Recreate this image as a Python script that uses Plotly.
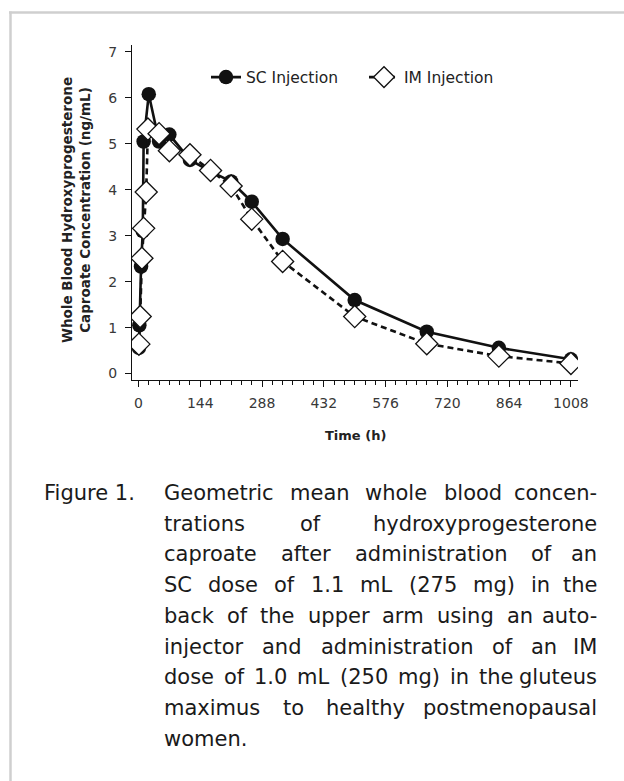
import plotly.graph_objects as go

# ---------------- data ----------------
sc_time = [1, 2, 6, 10, 12, 24, 48, 72, 120, 168, 216, 264, 336, 504, 672, 840, 1008]
sc_conc = [0.56, 1.05, 2.33, 3.10, 5.05, 6.08, 5.05, 5.20, 4.65, 4.40, 4.18, 3.74, 2.93, 1.60, 0.91, 0.56, 0.31]

im_time = [1, 4, 8, 12, 18, 22, 48, 72, 120, 168, 216, 264, 336, 504, 672, 840, 1008]
im_conc = [0.64, 1.24, 2.51, 3.16, 3.95, 5.32, 5.22, 4.85, 4.76, 4.42, 4.08, 3.36, 2.44, 1.24, 0.65, 0.38, 0.22]

x_ticks = [0, 144, 288, 432, 576, 720, 864, 1008]
y_ticks = [0, 1, 2, 3, 4, 5, 6, 7]

caption_label = "Figure 1."
caption_lines = [
    "Geometric mean whole blood concen-",
    "trations of hydroxyprogesterone",
    "caproate after administration of an",
    "SC dose of 1.1 mL (275 mg) in the",
    "back of the upper arm using an auto-",
    "injector and administration of an IM",
    "dose of 1.0 mL (250 mg) in the gluteus",
    "maximus to healthy postmenopausal",
    "women.",
]

# ---------------- layout geometry (page px) ----------------
W, H = 624, 781
PL, PR, PT, PB = 132, 578, 45, 380   # plot area in page px
FONT = "DejaVu Sans"


def px_x(px):
    return (px - PL) / (PR - PL)


def px_y(py):
    return (PB - py) / (PB - PT)


fig = go.Figure()
fig.add_trace(go.Scatter(
    x=sc_time, y=sc_conc, mode="lines+markers", name="SC Injection",
    line=dict(color="#111111", width=2.6),
    marker=dict(symbol="circle", size=14.5, color="#111111"),
))
fig.add_trace(go.Scatter(
    x=im_time, y=im_conc, mode="lines+markers", name="IM Injection",
    line=dict(color="#111111", width=2.6, dash="6px,4px"),
    marker=dict(symbol="diamond", size=17, color="white",
                line=dict(color="#111111", width=1.3)),
))

axis_font = dict(family=FONT, size=14, color="#383838")
fig.update_xaxes(
    range=[-15.1, 1024.5], tickvals=x_ticks, ticktext=[str(v) for v in x_ticks],
    showline=True, linecolor="#111111", linewidth=1.3,
    ticks="outside", ticklen=6, tickwidth=1.3, tickcolor="#111111",
    minor=dict(dtick=24, tick0=0, ticks="outside", ticklen=3.5, tickwidth=1.1, tickcolor="#111111"),
    showgrid=False, zeroline=False, tickfont=axis_font, ticklabelstandoff=4,
)
fig.update_yaxes(
    range=[-0.14, 7.15], tickvals=y_ticks, ticktext=[str(v) for v in y_ticks],
    showline=True, linecolor="#111111", linewidth=1.3,
    ticks="outside", ticklen=6, tickwidth=1.3, tickcolor="#111111",
    showgrid=False, zeroline=False, tickfont=axis_font, ticklabelstandoff=5,
)

annotations = []
annotations.append(dict(
    x=px_x(355), y=px_y(435), xref="paper", yref="paper", showarrow=False,
    text="<b>Time (h)</b>", font=dict(family=FONT, size=13, color="#222222"),
    xanchor="center", yanchor="middle",
))
annotations.append(dict(
    x=px_x(76), y=px_y(210), xref="paper", yref="paper", showarrow=False,
    text="<b>Whole Blood Hydroxyprogesterone<br>Caproate Concentration (ng/mL)</b>",
    textangle=-90, font=dict(family=FONT, size=13.5, color="#222222"),
    xanchor="center", yanchor="middle",
))

# caption: hanging indent, justified word by word
CAP_SIZE = 21
CW = {"a": .613, "b": .635, "c": .55, "d": .635, "e": .615, "f": .352, "g": .635, "h": .634,
      "i": .278, "j": .278, "k": .579, "l": .278, "m": .974, "n": .634, "o": .612, "p": .635,
      "q": .635, "r": .411, "s": .521, "t": .392, "u": .634, "v": .592, "w": .818, "x": .592,
      "y": .592, "z": .525, "S": .635, "C": .698, "I": .295, "M": .863, "L": .557, "G": .775,
      "F": .575, ".": .318, "-": .361, "(": .39, ")": .39, " ": .318}


def wwidth(word):
    return sum(CW.get(c, 0.636) for c in word) * CAP_SIZE


L_PX, R_PX = 162, 599
LINE0, LINE_DY = 493, 30.7
cap_font = dict(family=FONT, size=CAP_SIZE, color="#1a1a1a")
annotations.append(dict(
    x=px_x(42), y=px_y(LINE0), xref="paper", yref="paper", showarrow=False,
    text=caption_label, font=cap_font, xanchor="left", yanchor="middle",
))
for i, line in enumerate(caption_lines):
    yy = px_y(LINE0 + i * LINE_DY)
    words = line.split(" ")
    if i == len(caption_lines) - 1 or len(words) == 1:
        annotations.append(dict(x=px_x(L_PX), y=yy, xref="paper", yref="paper", showarrow=False,
                                text=line, font=cap_font, xanchor="left", yanchor="middle"))
        continue
    widths = [wwidth(w) for w in words]
    gap = (R_PX - L_PX - sum(widths)) / (len(words) - 1)
    cur = L_PX
    for j, w in enumerate(words):
        last = j == len(words) - 1
        annotations.append(dict(x=px_x(R_PX if last else cur), y=yy, xref="paper", yref="paper",
                                showarrow=False, text=w, font=cap_font,
                                xanchor="right" if last else "left", yanchor="middle"))
        cur += widths[j] + gap

shapes = [
    dict(type="line", xref="paper", yref="paper", x0=px_x(9), x1=px_x(640), y0=px_y(12.5), y1=px_y(12.5),
         line=dict(color="#cfcfcf", width=2.5)),
    dict(type="line", xref="paper", yref="paper", x0=px_x(10.5), x1=px_x(10.5), y0=px_y(11.5), y1=px_y(800),
         line=dict(color="#cfcfcf", width=2.5)),
]

fig.update_layout(
    width=W, height=H, autosize=False,
    margin=dict(l=PL, r=W - PR, t=PT, b=H - PB, pad=0),
    paper_bgcolor="white", plot_bgcolor="white",
    font=dict(family=FONT, color="#222222"),
    showlegend=True,
    legend=dict(orientation="h", x=px_x(206), y=px_y(77.5), xanchor="left", yanchor="middle",
                font=dict(family=FONT, size=15.5, color="#222222"), bgcolor="rgba(0,0,0,0)",
                entrywidth=113, entrywidthmode="pixels", tracegroupgap=0),
    annotations=annotations, shapes=shapes,
)

fig.write_html(
    "out.html",
    config={"displayModeBar": False},
    post_script="document.body.style.margin='0';document.body.style.overflow='hidden';",
)
